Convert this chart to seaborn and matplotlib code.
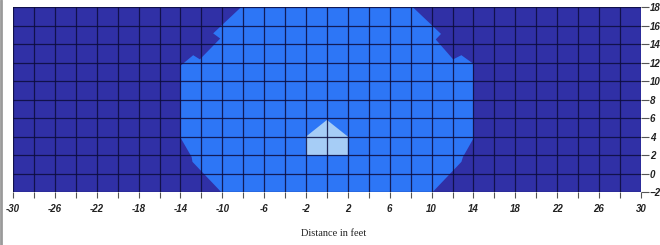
import numpy as np
import matplotlib
matplotlib.use("Agg")
import matplotlib.pyplot as plt
import seaborn as sns
from matplotlib.lines import Line2D

# outline of the middle band (feet), clockwise from top-left
mid_x = [-8.2, 8.2, 10.9, 10.4, 12.06, 12.85, 13.96, 14.0, 13.0, 12.85, 10.1,
         -10.1, -12.85, -12.93, -13.95, -13.95, -12.78, -12.14, -10.2, -10.87]
mid_y = [18, 18, 15.1, 14.5, 12.35, 12.8, 11.9, 3.8, 1.8, 1.27, -2,
         -2, 1.27, 1.8, 3.8, 11.7, 12.8, 12.35, 14.6, 15.16]

# outline of the small light patch near the source
core_x = [-2, -2, 0, 2, 2]
core_y = [2, 4, 5.8, 4, 2]

x_ticks = list(range(-30, 31, 2))
y_ticks = list(range(-2, 19, 2))

dark = "#3030a6"
mid = "#2d76f6"
light = "#a6cdf6"

sns.set_style("white")
fig, ax = plt.subplots(figsize=(6.6, 2.45), dpi=100)
fig.subplots_adjust(left=0.0197, right=0.971, bottom=0.216, top=0.971)

ax.set_facecolor(dark)
ax.fill(mid_x, mid_y, color=mid, lw=0, zorder=1)
ax.fill(core_x, core_y, color=light, lw=0, zorder=2)

ax.set_xlim(-30, 30)
ax.set_ylim(-2, 18)
ax.set_xticks(x_ticks)
ax.set_xticklabels([str(v) if (v + 30) % 4 == 0 else "" for v in x_ticks])
ax.set_yticks(y_ticks)
ax.yaxis.tick_right()

ax.grid(True, color="#0c0c3c", lw=0.9, alpha=0.85, zorder=3)
ax.set_axisbelow(False)

for s in ax.spines.values():
    s.set_visible(False)

ax.tick_params(axis="x", bottom=True, direction="out", length=4.5, width=0.8,
               color="#555555", pad=4, labelsize=7, labelcolor="#222222")
ax.tick_params(axis="y", right=True, left=False, direction="out", length=5.5,
               width=0.8, color="#555555", pad=1, labelsize=7, labelcolor="#222222")
for lab in ax.get_xticklabels() + ax.get_yticklabels():
    lab.set_fontstyle("italic")
    lab.set_fontfamily("Liberation Sans")
    lab.set_fontweight("bold")

ax.set_xlabel("Distance in feet", fontfamily="Liberation Serif", fontsize=7.5,
              color="#222222")
ax.xaxis.set_label_coords(0.51, -0.2)

# thin grey frame line on the left like the screenshot
fig.add_artist(Line2D([0.002, 0.002], [0, 1], color="#9a9a9a", lw=2))

fig.savefig("out.png", dpi=100)
